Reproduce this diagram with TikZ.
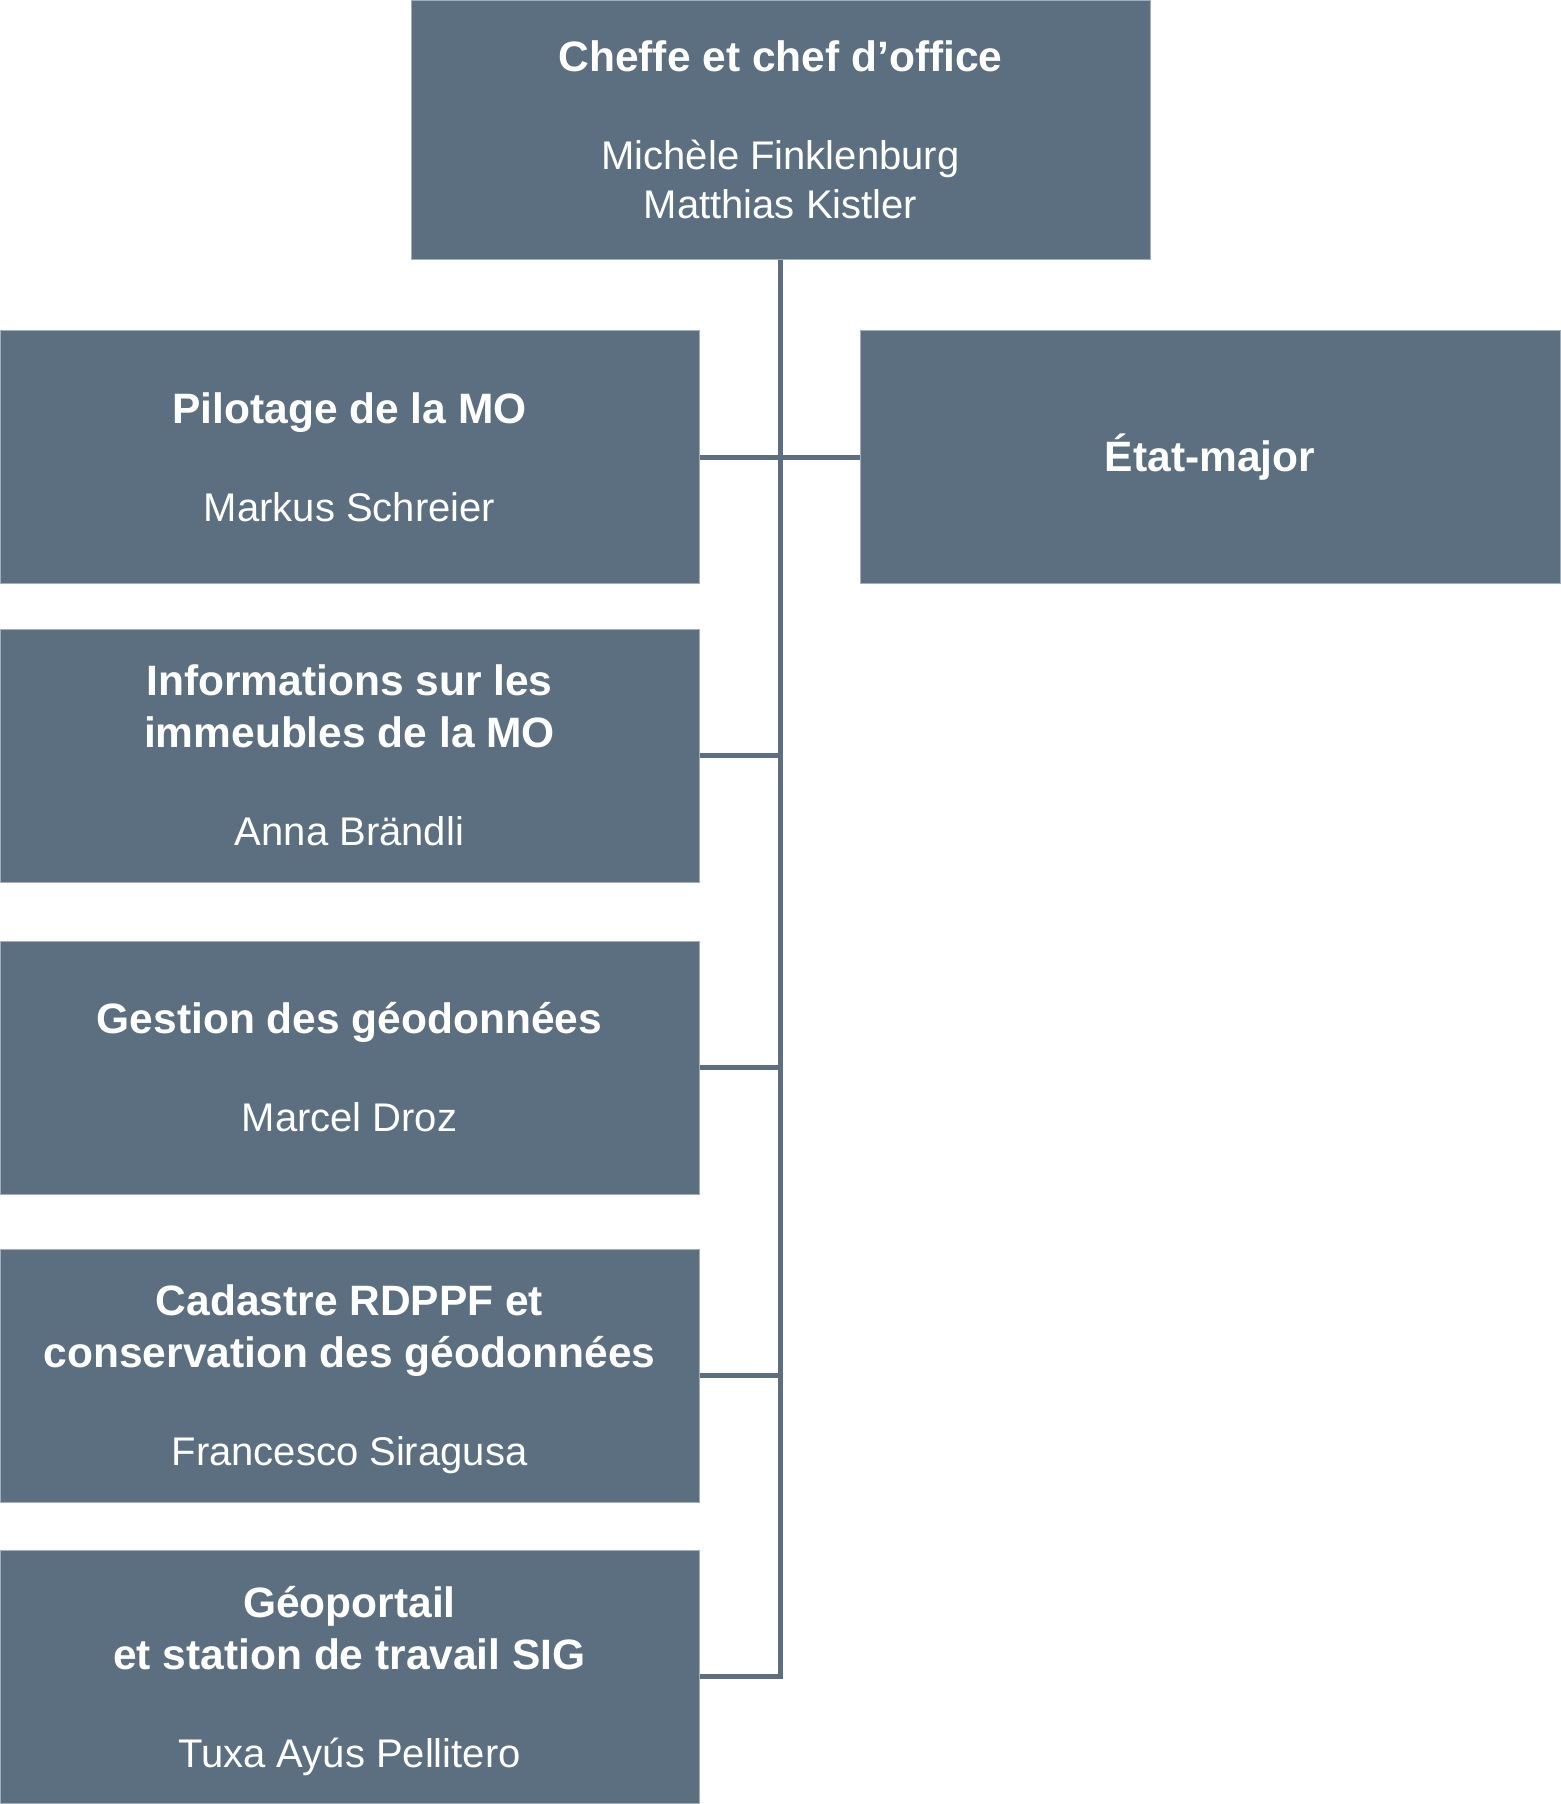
\documentclass[tikz,border=0pt]{standalone}
\usepackage{fontspec}
\setmainfont{Liberation Sans}
\definecolor{unitfill}{HTML}{5B6F80}
\definecolor{unitline}{HTML}{A3AEB8}
\newcommand{\hd}[1]{{\fontsize{21.25}{25.5}\selectfont\bfseries #1}}
\newcommand{\nm}[1]{\raisebox{0pt}[\height][0pt]{#1}}
\begin{document}
\begin{tikzpicture}[x=0.5pt, y=-0.5pt,
  unit/.style={draw=unitline, line width=0.5pt, fill=unitfill, text=white,
    inner sep=0pt, align=center, minimum width=349.5pt, minimum height=126.5pt,
    font=\fontsize{20}{24.5}\selectfont},
  link/.style={draw=unitfill, line width=2.5pt}]
\useasboundingbox (0,0) rectangle (1560,1804);
\node[unit, minimum width=369.5pt, minimum height=129.5pt] (top) at (780.5,129.5)
  {\hd{Cheffe et chef d’office}\\[24.5pt]Michèle Finklenburg\\Matthias Kistler};
\node[unit] (pil) at (349.5,457) {\hd{Pilotage de la MO}\\[24.5pt]Markus Schreier};
\node[unit, minimum width=350pt] (etat) at (1210,457) {\hd{État-major}};
\node[unit] (info) at (349.5,755.5)
  {\hd{Informations sur les}\\[1.5pt]\hd{immeubles de la MO}\\[24.5pt]\nm{Anna Brändli}};
\node[unit] (gest) at (349.5,1067.5) {\hd{Gestion des géodonnées}\\[24.5pt]Marcel Droz};
\node[unit] (cad) at (349.5,1375.5)
  {\hd{Cadastre RDPPF et}\\[1.5pt]\hd{conservation des géodonnées}\\[24.5pt]\nm{Francesco Siragusa}};
\node[unit] (geo) at (349.5,1676.5)
  {\hd{Géoportail}\\[1.5pt]\hd{et station de travail SIG}\\[24.5pt]\nm{Tuxa Ayús Pellitero}};
% lignes
\draw[link] (top.south) |- (geo.east);
\draw[link] (pil.east) -- (etat.west);
\foreach \n in {info,gest,cad}
  \draw[link] (\n.east) -- (\n.east -| top.south);
\end{tikzpicture}
\end{document}
